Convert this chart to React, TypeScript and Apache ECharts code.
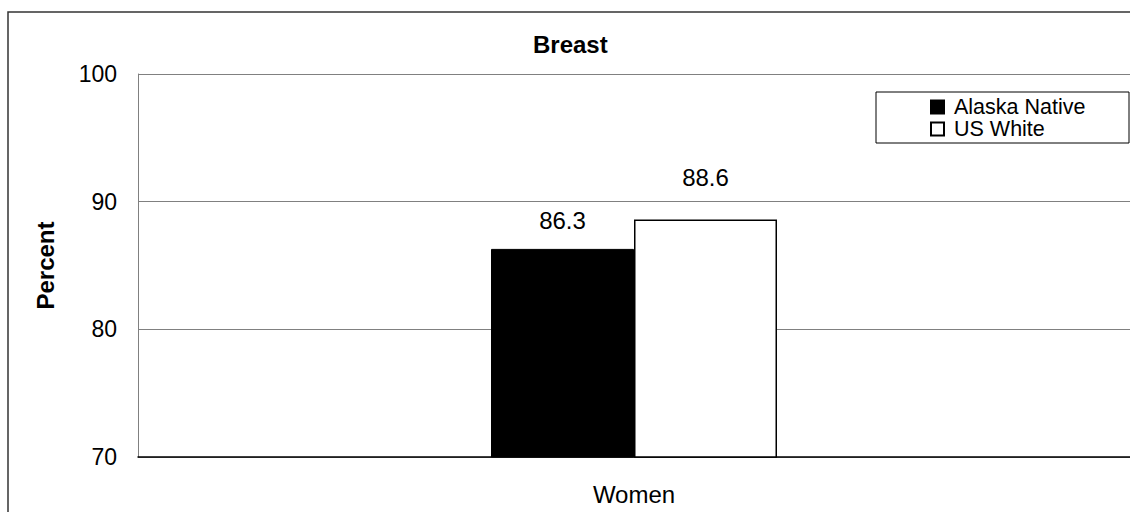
import React, { useEffect, useRef } from "react";
import * as echarts from "echarts";

const categories = ["Women"];
const alaskaNative = [86.3];
const usWhite = [88.6];
const seriesNames = ["Alaska Native", "US White"];
const chartTitle = "Breast";
const yAxisName = "Percent";

const FONT = "Liberation Sans, Arial, sans-serif";

export default function App() {
  const ref = useRef<HTMLDivElement>(null);
  useEffect(() => {
    document.body.style.margin = "0";
    const chart = echarts.init(ref.current!, null, { renderer: "svg" });
    chart.setOption({
      animation: false,
      backgroundColor: "#fff",
      textStyle: { fontFamily: FONT },
      title: {
        text: chartTitle,
        left: 533,
        top: 32,
        padding: 0,
        textStyle: { fontSize: 24, fontWeight: "bold", color: "#000", fontFamily: FONT },
      },
      legend: {
        orient: "vertical",
        left: 930,
        top: 96,
        padding: 0,
        itemGap: 0,
        itemWidth: 13,
        itemHeight: 13,
        icon: "rect",
        textStyle: {
          fontSize: 21.5,
          lineHeight: 21,
          color: "#000",
          fontFamily: FONT,
          padding: [0, 0, 0, 5],
        },
        data: seriesNames,
      },
      graphic: [
        {
          type: "rect",
          shape: { x: 8, y: 12, width: 1140, height: 520 },
          style: { fill: "none", stroke: "#333", lineWidth: 1.5 },
          silent: true,
        },
        {
          type: "rect",
          shape: { x: 876, y: 92, width: 253, height: 51 },
          style: { fill: "#fff", stroke: "#000", lineWidth: 1 },
          silent: true,
          z: -1,
        },
      ],
      grid: { left: 138, top: 74, width: 998, height: 383, show: false },
      xAxis: {
        type: "category",
        data: categories,
        axisLine: { lineStyle: { color: "#000", width: 1.5 } },
        axisTick: { show: false },
        axisLabel: { fontSize: 24, color: "#000", margin: 25, fontFamily: FONT },
      },
      yAxis: {
        type: "value",
        min: 70,
        max: 100,
        interval: 10,
        name: yAxisName,
        nameLocation: "middle",
        nameRotate: 90,
        nameGap: 81,
        nameTextStyle: { fontSize: 24, fontWeight: "bold", color: "#000", fontFamily: FONT },
        axisLine: { show: true, lineStyle: { color: "#808080", width: 1 } },
        axisTick: { show: false },
        axisLabel: { fontSize: 23, color: "#000", margin: 21, fontFamily: FONT },
        splitLine: { lineStyle: { color: "#808080", width: 1 } },
      },
      series: [
        {
          name: seriesNames[0],
          type: "bar",
          data: alaskaNative,
          barWidth: 143,
          barGap: "0%",
          itemStyle: { color: "#000", borderColor: "#000", borderWidth: 1 },
          label: { show: true, position: "top", distance: 16, fontSize: 24, color: "#000", fontFamily: FONT },
        },
        {
          name: seriesNames[1],
          type: "bar",
          data: usWhite,
          barWidth: 143,
          barGap: "0%",
          itemStyle: { color: "#fff", borderColor: "#000", borderWidth: 1.5 },
          label: { show: true, position: "top", distance: 30, fontSize: 24, color: "#000", fontFamily: FONT },
        },
      ],
    });
    return () => chart.dispose();
  }, []);
  return <div ref={ref} style={{ width: 1130, height: 512 }} />;
}
